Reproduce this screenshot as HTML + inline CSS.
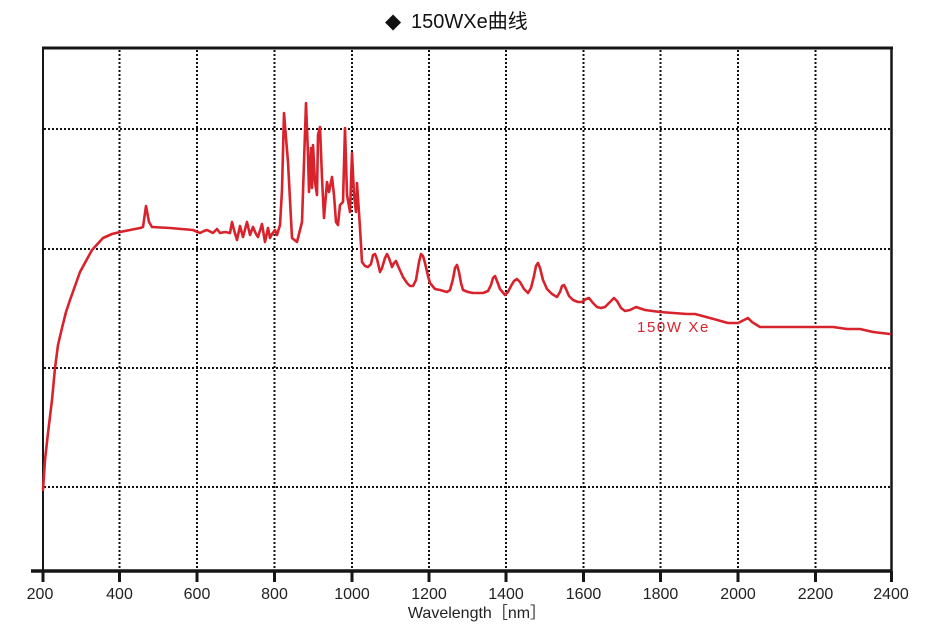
<!DOCTYPE html>
<html><head><meta charset="utf-8"><style>
html,body{margin:0;padding:0;background:#fff;}
svg{display:block;}
</style></head><body>
<svg width="931" height="639" viewBox="0 0 931 639" xmlns="http://www.w3.org/2000/svg">
<rect width="931" height="639" fill="#fff"/>
<text x="385" y="28" font-family="Liberation Sans, sans-serif" font-size="21" fill="#111">◆</text>
<text x="411" y="28" font-family="Liberation Sans, 'Noto Sans CJK SC', sans-serif" font-size="20" fill="#111">150WXe曲线</text>
<g stroke="#111" stroke-width="2" stroke-dasharray="2 2" fill="none">
<line x1="119.5" y1="50" x2="119.5" y2="569"/>
<line x1="197" y1="50" x2="197" y2="569"/>
<line x1="274.5" y1="50" x2="274.5" y2="569"/>
<line x1="352" y1="50" x2="352" y2="569"/>
<line x1="429" y1="50" x2="429" y2="569"/>
<line x1="506" y1="50" x2="506" y2="569"/>
<line x1="583.5" y1="50" x2="583.5" y2="569"/>
<line x1="660.5" y1="50" x2="660.5" y2="569"/>
<line x1="738" y1="50" x2="738" y2="569"/>
<line x1="815.5" y1="50" x2="815.5" y2="569"/>
<line x1="44" y1="129" x2="890" y2="129"/>
<line x1="44" y1="249" x2="890" y2="249"/>
<line x1="44" y1="368" x2="890" y2="368"/>
<line x1="44" y1="487" x2="890" y2="487"/>
</g>
<g stroke="#161616" fill="none">
<line x1="42" y1="48" x2="893" y2="48" stroke-width="3"/>
<line x1="43" y1="47" x2="43" y2="582" stroke-width="2"/>
<line x1="891.5" y1="47" x2="891.5" y2="572" stroke-width="2.5"/>
<line x1="31" y1="571" x2="892" y2="571" stroke-width="3.5"/>
</g>
<g stroke="#161616" stroke-width="3">
<line x1="43" y1="571" x2="43" y2="582"/>
<line x1="119.5" y1="571" x2="119.5" y2="582"/>
<line x1="197" y1="571" x2="197" y2="582"/>
<line x1="274.5" y1="571" x2="274.5" y2="582"/>
<line x1="352" y1="571" x2="352" y2="582"/>
<line x1="429" y1="571" x2="429" y2="582"/>
<line x1="506" y1="571" x2="506" y2="582"/>
<line x1="583.5" y1="571" x2="583.5" y2="582"/>
<line x1="660.5" y1="571" x2="660.5" y2="582"/>
<line x1="738" y1="571" x2="738" y2="582"/>
<line x1="815.5" y1="571" x2="815.5" y2="582"/>
<line x1="891.5" y1="571" x2="891.5" y2="582"/>
</g>
<g font-family="Liberation Sans, sans-serif" font-size="16" fill="#222" text-anchor="middle">
<text x="40" y="599">200</text>
<text x="119.5" y="599">400</text>
<text x="197" y="599">600</text>
<text x="274.5" y="599">800</text>
<text x="352" y="599">1000</text>
<text x="429" y="599">1200</text>
<text x="506" y="599">1400</text>
<text x="583.5" y="599">1600</text>
<text x="660.5" y="599">1800</text>
<text x="738" y="599">2000</text>
<text x="815.5" y="599">2200</text>
<text x="891" y="599">2400</text>
</g>
<text x="477" y="618" text-anchor="middle" font-family="Liberation Sans, 'Noto Sans CJK SC', sans-serif" font-size="16" fill="#222">Wavelength［nm］</text>
<polyline fill="none" stroke="#d8222c" stroke-width="2.6" stroke-linejoin="round" stroke-linecap="round" points="43,490 45,460 48,433 52,400 55,368 58,345 62,328 66,312 70,300 80,272 92,250 103,238 112,234 120,232 130,230 140,228 143,227 146,206 149,222 152,227 170,228 193,230 200,233 204,231 207,230 211,232 213,233 217,229 220,233 225,232 230,233 232,222 234,230 237,240 240,226 243,237 247,222 250,235 253,227 256,234 258,237 262,224 265,242 268,228 270,238 272,234 275,230 277,235 280,225 282,190 284,113 286,138 288,162 292,238 297,242 302,222 306,103 308,155 309,192 311,148 312,188 313,145 315,182 317,195 318,135 320,127 322,178 324,218 327,182 329,192 332,177 334,195 336,222 338,225 340,205 343,202 345,128 347,195 350,212 352,153 354,195 356,212 357,183 360,228 362,262 365,266 368,267 371,264 373,255 375,254 377,259 380,272 382,268 385,258 387,254 389,258 392,267 394,263 396,261 398,266 403,277 407,283 410,286 413,286 416,280 419,262 421,254 423,256 425,263 428,276 430,283 435,289 440,290 447,292 450,290 453,279 455,268 457,265 459,272 461,283 463,290 468,292 473,293 483,293 488,291 491,285 493,278 495,276 497,281 500,289 505,295 508,292 511,286 514,281 517,279 520,282 524,289 528,293 531,288 534,276 536,266 538,263 540,268 543,280 547,289 552,294 557,297 560,292 562,286 564,285 566,289 569,296 573,300 578,302 582,302 586,299 589,298 593,303 597,307 601,308 605,307 610,302 614,298 617,301 621,308 625,311 630,310 636,307 642,309 645,310 660,312 687,314 695,314 710,318 728,323 738,323 744,320 748,318 752,322 760,327 787,327 833,327 847,329 860,329 873,332 890,334"/>
<text x="637" y="332" font-family="Liberation Sans, sans-serif" font-size="15" letter-spacing="1.6" fill="#d8222c">150W Xe</text>
</svg>
</body></html>
